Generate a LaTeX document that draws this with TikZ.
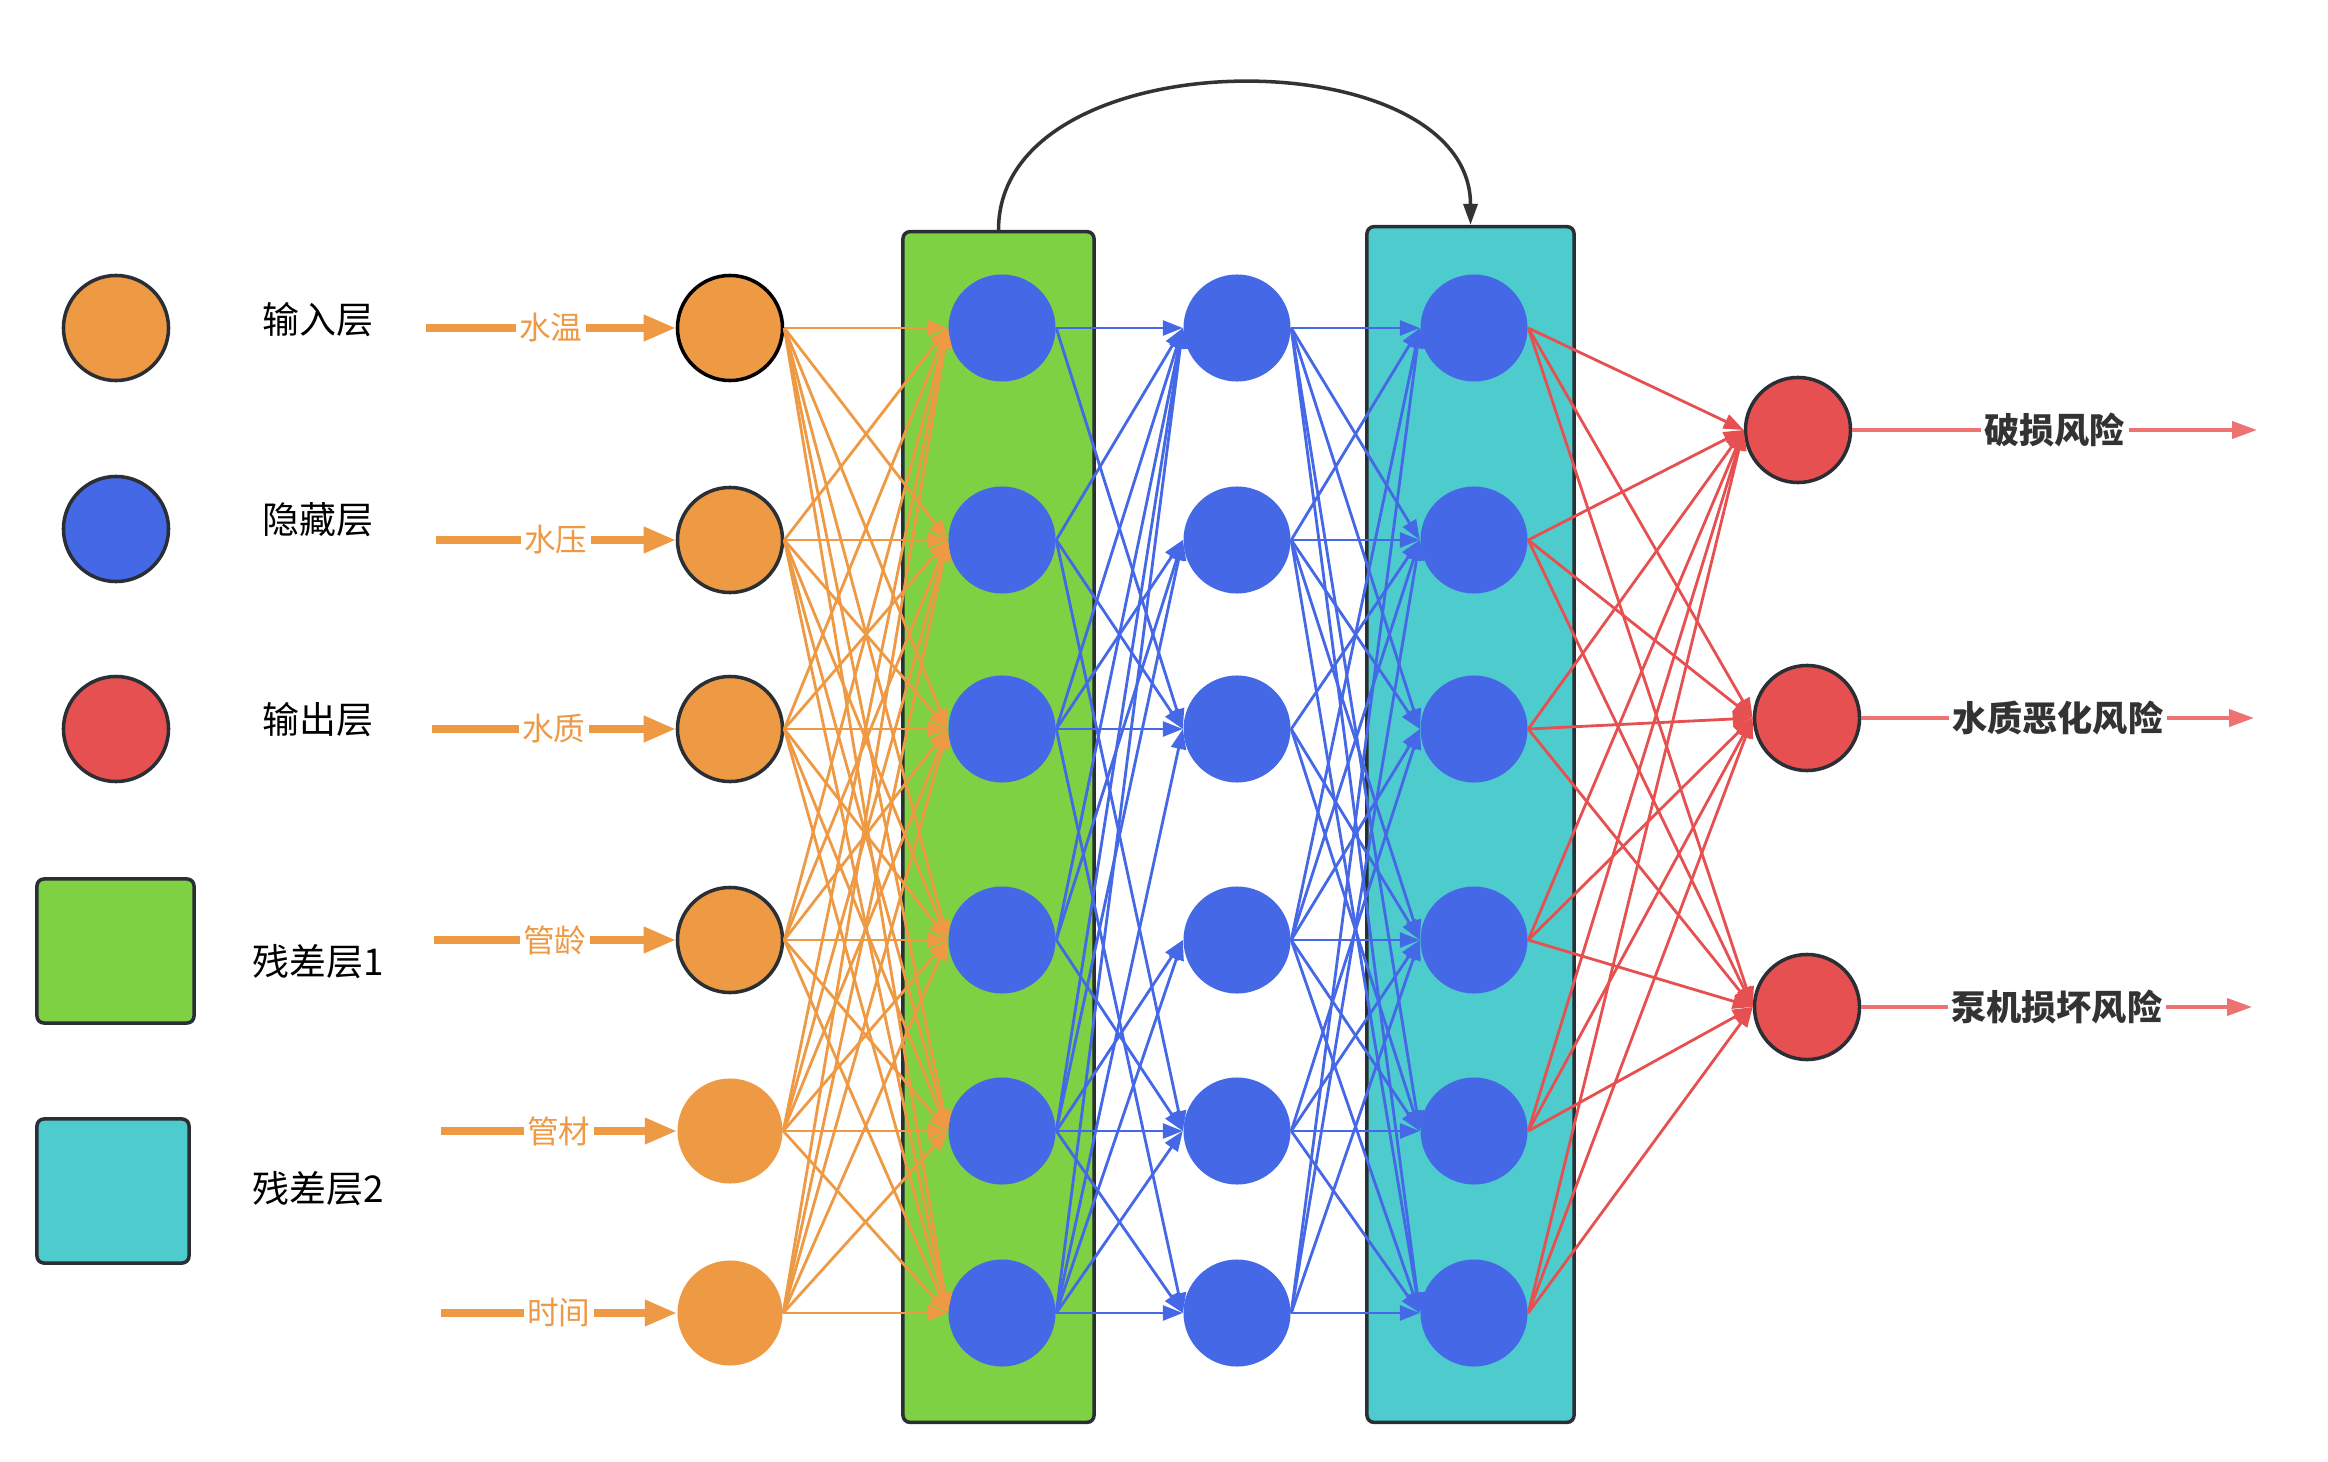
\documentclass[tikz,border=0pt]{standalone}
\usepackage{fontspec}
\newfontfamily\cjkfont{Noto Sans CJK SC}
\usetikzlibrary{arrows.meta,shapes.geometric}

\definecolor{inorange}{HTML}{EE9944}
\definecolor{hidblue}{HTML}{4568E6}
\definecolor{outred}{HTML}{E65050}
\definecolor{edgegray}{HTML}{2A2E35}
\definecolor{resgreen}{HTML}{7DD142}
\definecolor{rescyan}{HTML}{4ECBCC}
\definecolor{riskline}{HTML}{EE7272}
\definecolor{textgray}{HTML}{333333}

\begin{document}
\begin{tikzpicture}[x=0.01cm, y=-0.01cm,
  innode/.style={ellipse, fill=inorange, minimum width=1.05cm, minimum height=1.05cm, inner sep=0pt},
  hidnode/.style={ellipse, fill=hidblue, minimum width=1.07cm, minimum height=1.07cm, inner sep=0pt},
  outnode/.style={ellipse, fill=outred, draw=edgegray, line width=1pt, minimum width=1.05cm, minimum height=1.05cm, inner sep=0pt},
  bordered/.style={draw=edgegray, line width=1pt},
  resbox/.style={draw=edgegray, line width=1pt, rounded corners=2pt, inner sep=0pt},
  legendtext/.style={font=\cjkfont\fontsize{10.5}{12}\selectfont},
  feed/.style={inorange, line width=2pt, -{Triangle[length=0.32cm, width=0.25cm]}},
  feedlabel/.style={fill=white, text=inorange, inner sep=1pt, font=\cjkfont\fontsize{9}{10}\selectfont},
  wire/.style={line width=0.8pt, -{Triangle[length=0.2cm, width=0.15cm]}},
  risk/.style={riskline, line width=1.1pt, -{Triangle[length=0.25cm, width=0.17cm]}},
  risklabel/.style={fill=white, text=textgray, inner sep=1pt, font=\cjkfont\bfseries\fontsize{10}{12}\selectfont},
  skip/.style={draw=textgray, line width=1pt, -{Triangle[length=0.21cm, width=0.14cm]}}]
  \useasboundingbox (0,0) rectangle (2328,1461);
  % Legend
  \node[innode, bordered] (leg-in) at (116,328) {};
  \node[hidnode, bordered, minimum width=1.05cm, minimum height=1.05cm] (leg-hid) at (116,529) {};
  \node[outnode] (leg-out) at (116,729) {};
  \node[resbox, fill=resgreen, minimum width=1.57cm, minimum height=1.44cm] (leg-res1) at (115.5,951) {};
  \node[resbox, fill=rescyan, minimum width=1.52cm, minimum height=1.44cm] (leg-res2) at (113,1191) {};
  \node[legendtext] (txt-in) at (318,320) {输入层};
  \node[legendtext] (txt-hid) at (318,520) {隐藏层};
  \node[legendtext] (txt-out) at (318,720) {输出层};
  \node[legendtext] (txt-res1) at (318,962) {残差层1};
  \node[legendtext] (txt-res2) at (318,1189) {残差层2};
  % Residual blocks
  \node[resbox, fill=resgreen, minimum width=1.91cm, minimum height=11.9cm] (res1) at (998.5,827) {};
  \node[resbox, fill=rescyan, minimum width=2.07cm, minimum height=11.95cm] (res2) at (1470.5,824.5) {};
  \draw[skip] (res1.north) .. controls +(0,-194) and +(0,-189) .. (res2.north);
  % Input layer
  \node[innode, draw=black, line width=1pt] (in-1) at (730,328) {};
  \node[innode, bordered] (in-2) at (730,540) {};
  \node[innode, bordered] (in-3) at (730,729) {};
  \node[innode, bordered] (in-4) at (730,940) {};
  \node[innode] (in-5) at (730,1131) {};
  \node[innode] (in-6) at (730,1313) {};
  \foreach \i/\x/\y/\name in {1/426/328/水温, 2/436/540/水压, 3/432/729/水质,
                              4/434/940/管龄, 5/441/1131/管材, 6/441/1313/时间} {
    \coordinate (src-\i) at (\x,\y);
    \draw[feed] (src-\i) -- node[feedlabel] (lab-\i) {\name} (in-\i.west);
  }
  % Hidden layers
  \foreach \i/\y in {1/328, 2/540, 3/729, 4/940, 5/1131, 6/1313} {
    \node[hidnode] (h1-\i) at (1002,\y) {};
    \node[hidnode] (h2-\i) at (1237,\y) {};
    \node[hidnode] (h3-\i) at (1474,\y) {};
  }
  % Output layer
  \node[outnode] (out-1) at (1798,430) {};
  \node[outnode] (out-2) at (1807,718) {};
  \node[outnode] (out-3) at (1807,1007) {};
  % Connections
  \foreach \a in {1,...,6} {
    \foreach \b in {1,...,6}
      \draw[wire, inorange] (in-\a.east) -- (h1-\b.west);
    \foreach \b in {1,2,3}
      \draw[wire, outred] (h3-\a.east) -- (out-\b.west);
  }
  \foreach \a/\list in {1/{1,3}, 2/{1,3,5}, 3/{1,2,3,6}, 4/{1,2,5}, 5/{1,2,4,5,6}, 6/{1,3,4,5,6}}
    \foreach \b in \list
      \draw[wire, hidblue] (h1-\a.east) -- (h2-\b.west);
  \foreach \a/\list in {1/{1,2,3,5,6}, 2/{1,2,3,4,6}, 3/{2,4,5}, 4/{1,2,3,4,5,6}, 5/{3,4,5,6}, 6/{1,2,4,6}}
    \foreach \b in \list
      \draw[wire, hidblue] (h2-\a.east) -- (h3-\b.west);
  % Risk outputs
  \coordinate (risk-1) at (2257,430);
  \coordinate (risk-2) at (2254,718);
  \coordinate (risk-3) at (2252,1007);
  \draw[risk] (out-1.east) -- node[risklabel] (rl-1) {破损风险} (risk-1);
  \draw[risk] (out-2.east) -- node[risklabel] (rl-2) {水质恶化风险} (risk-2);
  \draw[risk] (out-3.east) -- node[risklabel] (rl-3) {泵机损坏风险} (risk-3);
\end{tikzpicture}
\end{document}
